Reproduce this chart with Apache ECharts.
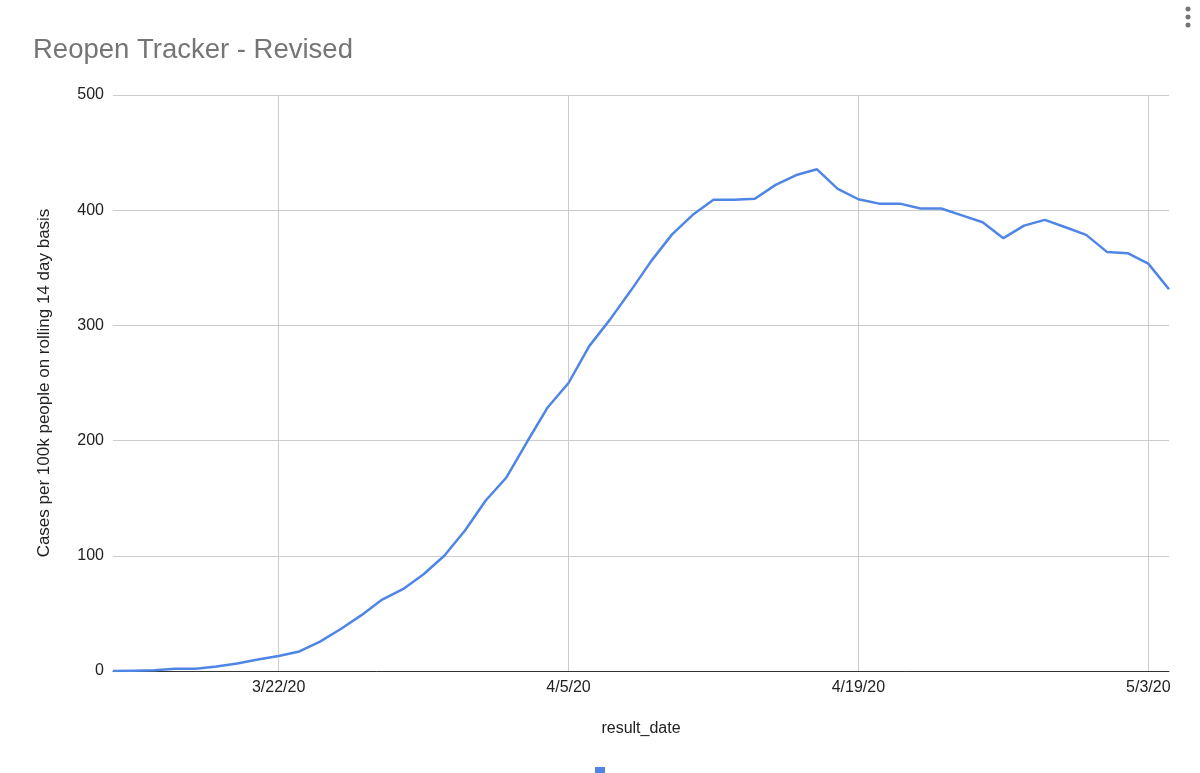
<!DOCTYPE html>
<html>
<head>
<meta charset="utf-8">
<title>Reopen Tracker - Revised</title>
<script src="https://cdn.jsdelivr.net/npm/echarts@6/dist/echarts.min.js"></script>
<style>
  html, body { margin: 0; padding: 0; background: #fff; }
  #chart { width: 1200px; height: 773px; }
</style>
</head>
<body>
<div id="chart"></div>
<script>
// daily dates 3/14/20 .. 5/4/20
const dates = [
  '3/14/20', '3/15/20', '3/16/20', '3/17/20', '3/18/20', '3/19/20', '3/20/20',
  '3/21/20', '3/22/20', '3/23/20', '3/24/20', '3/25/20', '3/26/20', '3/27/20',
  '3/28/20', '3/29/20', '3/30/20', '3/31/20', '4/1/20', '4/2/20', '4/3/20',
  '4/4/20', '4/5/20', '4/6/20', '4/7/20', '4/8/20', '4/9/20', '4/10/20',
  '4/11/20', '4/12/20', '4/13/20', '4/14/20', '4/15/20', '4/16/20', '4/17/20',
  '4/18/20', '4/19/20', '4/20/20', '4/21/20', '4/22/20', '4/23/20', '4/24/20',
  '4/25/20', '4/26/20', '4/27/20', '4/28/20', '4/29/20', '4/30/20', '5/1/20',
  '5/2/20', '5/3/20', '5/4/20'
];

// cases per 100k, rolling 14 day
const cases = [
  0, 0.3, 0.6, 2, 2, 4, 6.5,
  10, 13, 17, 25.5, 36.5, 48.5, 62,
  71, 84, 100, 122, 148, 168, 199,
  229, 250, 282, 305, 330, 356, 379,
  396, 409, 409, 410, 422, 430.5, 435.5,
  418.5, 409.5, 405.7, 405.7, 401.5, 401.5, 395.5,
  389.5, 375.7, 386.6, 391.6, 385.2, 378.6, 363.8,
  362.7, 353.6, 331.4
];

const labelDates = ['3/22/20', '4/5/20', '4/19/20', '5/3/20'];
const yTicks = { min: 0, max: 500, step: 100 };

const font = '"Liberation Sans", Arial, sans-serif';
const showTick = (idx) => labelDates.indexOf(dates[idx]) !== -1;

const chart = echarts.init(document.getElementById('chart'));
chart.setOption({
  animation: false,
  textStyle: { fontFamily: font },
  title: {
    text: 'Reopen Tracker - Revised',
    left: 28,
    top: 31,
    textStyle: { fontFamily: font, fontSize: 27.5, fontWeight: 'normal', color: '#757575' }
  },
  legend: {
    bottom: -9,
    left: 'center',
    icon: 'rect',
    itemWidth: 10,
    itemHeight: 10,
    formatter: () => '',
    data: ['cases']
  },
  grid: { left: 113, right: 31, top: 95, bottom: 102, containLabel: false },
  xAxis: {
    type: 'category',
    data: dates,
    boundaryGap: false,
    name: 'result_date',
    nameLocation: 'middle',
    nameGap: 50,
    nameTextStyle: { fontFamily: font, fontSize: 16, color: '#222' },
    axisLine: { lineStyle: { color: '#333', width: 1 } },
    axisTick: { show: false },
    axisLabel: {
      interval: (idx) => showTick(idx),
      fontFamily: font, fontSize: 16, color: '#222', margin: 9
    },
    splitLine: {
      show: true,
      interval: (idx) => showTick(idx),
      lineStyle: { color: '#cccccc', width: 1 }
    }
  },
  yAxis: {
    type: 'value',
    min: yTicks.min,
    max: yTicks.max,
    interval: yTicks.step,
    name: 'Cases per 100k people on rolling 14 day basis',
    nameLocation: 'middle',
    nameGap: 60,
    nameTextStyle: { fontFamily: font, fontSize: 17, color: '#222' },
    axisLine: { show: false },
    axisTick: { show: false },
    axisLabel: { fontFamily: font, fontSize: 16, color: '#222', margin: 9 },
    splitLine: { lineStyle: { color: '#cccccc', width: 1 } }
  },
  series: [{
    name: 'cases',
    type: 'line',
    data: cases,
    showSymbol: false,
    symbol: 'none',
    lineStyle: { color: '#4f86e6', width: 2.5 },
    itemStyle: { color: '#4f86e6' }
  }],
  graphic: [
    { type: 'circle', shape: { cx: 1188, cy: 9, r: 2.5 }, style: { fill: '#757575' } },
    { type: 'circle', shape: { cx: 1188, cy: 17, r: 2.5 }, style: { fill: '#757575' } },
    { type: 'circle', shape: { cx: 1188, cy: 25, r: 2.5 }, style: { fill: '#757575' } }
  ]
});
</script>
</body>
</html>
